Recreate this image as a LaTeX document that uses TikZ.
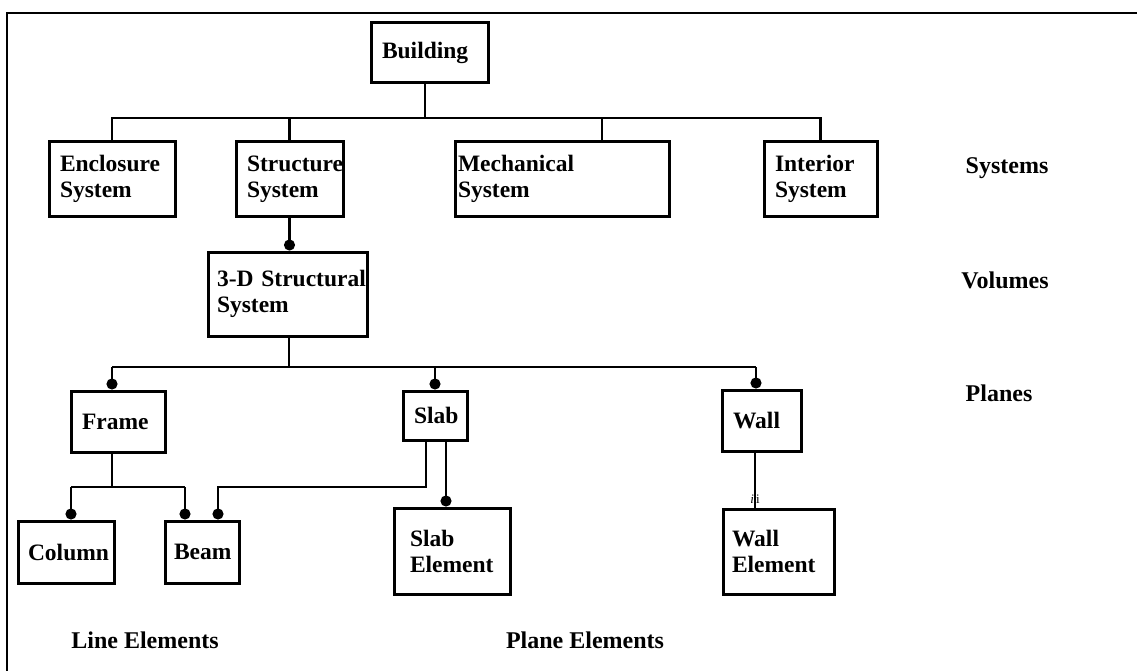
\documentclass[tikz,border=0pt]{standalone}
\usepackage{fontspec}
\setmainfont{Liberation Serif}
\usetikzlibrary{arrows.meta,positioning}

\tikzset{
	unit/.style={draw, line width=3pt, align=left, inner xsep=11pt, inner ysep=0pt,
		font=\bfseries\fontsize{23.5}{26}\selectfont},
	level/.style={font=\bfseries\fontsize{24}{26}\selectfont},
	link/.style={line width=2.1pt},
	part/.style={link, -{Circle[length=11pt,width=11pt]}},
}

\begin{document}
\begin{tikzpicture}[x=1pt, y=-1pt]
	\useasboundingbox (0,0) rectangle (1137,671);
	\draw[line width=2pt] (7,671) -- (7,13) -- (1137,13);
	
	% boxes
	\node[unit, text width=95pt, minimum height=60pt] (building) at (429.5,53) {Building};
	\node[unit, text width=104pt, minimum height=74pt] (enclosure) at (112,179) {Enclosure\\System};
	\node[unit, text width=85pt, minimum height=74pt] (structure) at (289.5,179) {Structure\\System};
	\node[unit, inner xsep=3pt, text width=208pt, minimum height=74pt] (mechanical) at (562,179) {Mechanical\\System};
	\node[unit, text width=91pt, minimum height=74pt] (interior) at (820.5,179) {Interior\\System};
	\node[unit, inner xsep=9pt, text width=141pt, minimum height=84pt] (volume) at (287.5,294) {\mbox{3-D Structural}\\System};
	\node[unit, text width=72pt, minimum height=61pt] (frame) at (118,421.5) {Frame};
	\node[unit, text width=42pt, minimum height=49pt] (slab) at (435,415.5) {Slab};
	\node[unit, text width=57pt, minimum height=61pt] (wall) at (761.5,420.5) {Wall};
	\node[unit, inner xsep=10pt, text width=76pt, minimum height=62pt] (column) at (66,552) {Column};
	\node[unit, inner xsep=9pt, text width=56pt, minimum height=62pt] (beam) at (202,552) {Beam};
	\node[unit, inner xsep=16pt, text width=84pt, minimum height=86pt] (slabel) at (452,551) {Slab\\Element};
	\node[unit, inner xsep=9pt, text width=93pt, minimum height=85pt] (wallel) at (778.5,551.5) {Wall\\Element};
	
	% levels
	\node[level] (systems) at (1007,168) {Systems};
	\node[level] (volumes) at (1005,280) {Volumes};
	\node[level] (planes) at (999,393) {Planes};
	\node[level] (lines) at (145,640) {Line Elements};
	\node[level] (planeel) at (585,640) {Plane Elements};
	
	% building to systems
	\coordinate (sysbus) at (0,118);
	\draw[link] (enclosure.north) -- (enclosure.north |- sysbus) -- (sysbus -| interior.north) -- (interior.north);
	\draw[link] ([xshift=-4.5pt]building.south) -- ([xshift=-4.5pt]building.south |- sysbus);
	\draw[link] (structure.north) -- (structure.north |- sysbus);
	\draw[link] ([xshift=40pt]mechanical.north) -- ([xshift=40pt]mechanical.north |- sysbus);
	\draw[part] (structure.south) -- (structure.south |- volume.north);
	
	% volume to planes
	\coordinate (planebus) at (0,367);
	\draw[link] ([xshift=1.5pt]volume.south) -- ([xshift=1.5pt]volume.south |- planebus);
	\draw[link] ([xshift=-6pt]frame.north |- planebus) -- ([xshift=-5.5pt]wall.north |- planebus);
	\draw[part] ([xshift=-6pt]frame.north |- planebus) -- ([xshift=-6pt]frame.north);
	\draw[part] (slab.north |- planebus) -- (slab.north);
	\draw[part] ([xshift=-5.5pt]wall.north |- planebus) -- ([xshift=-5.5pt]wall.north);
	
	% planes to elements
	\coordinate (linebus) at (0,487);
	\draw[link] ([xshift=-6pt]frame.south) -- ([xshift=-6pt]frame.south |- linebus);
	\draw[link] ([xshift=5pt]column.north |- linebus) -- ([xshift=-17pt]beam.north |- linebus);
	\draw[part] ([xshift=5pt]column.north |- linebus) -- ([xshift=5pt]column.north);
	\draw[part] ([xshift=-17pt]beam.north |- linebus) -- ([xshift=-17pt]beam.north);
	\draw[part] ([xshift=-9pt]slab.south) |- ([xshift=16pt]beam.north |- linebus) -- ([xshift=16pt]beam.north);
	\draw[part] ([xshift=11pt]slab.south) -- ([xshift=11pt]slab.south |- slabel.north);
	\draw[link] ([xshift=-6.5pt]wall.south) -- ([xshift=-6.5pt]wall.south |- wallel.north);
	\node[font=\fontsize{13}{13}\selectfont, inner sep=0pt] (mark) at ([xshift=-6.5pt,yshift=8pt]wall.south |- wallel.north) {\textit{i}\,i};
\end{tikzpicture}
\end{document}
